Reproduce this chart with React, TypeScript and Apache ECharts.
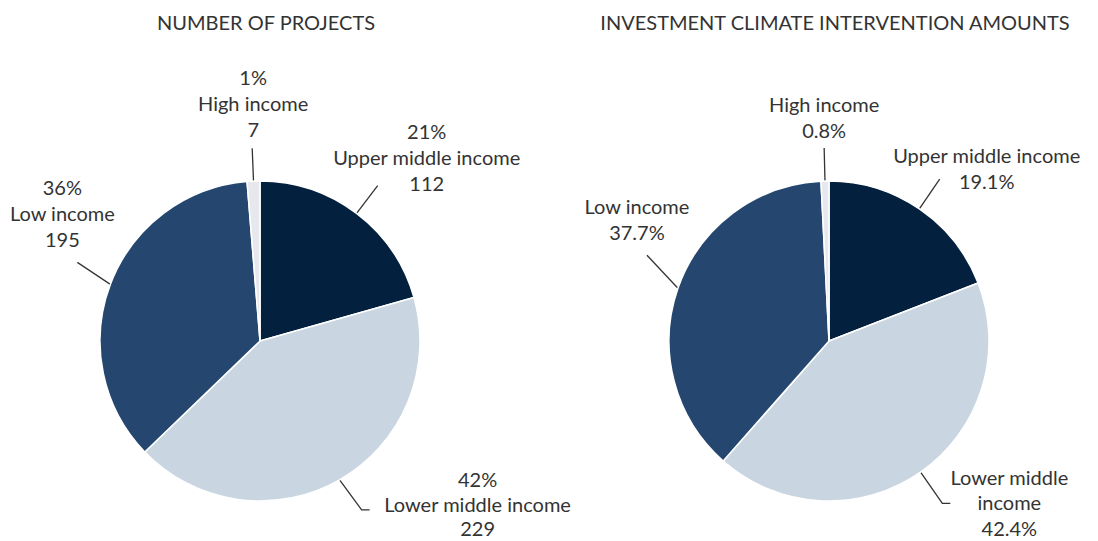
import React, { useEffect, useRef } from "react";
import * as echarts from "echarts";

const categories = ["Upper middle income", "Lower middle income", "Low income", "High income"];
const projectCounts = [112, 229, 195, 7];
const investmentShares = [19.1, 42.4, 37.7, 0.8];
const investmentLabelNames = ["Upper middle income", "Lower middle\nincome", "Low income", "High income"];
const titles = ["NUMBER OF PROJECTS", "INVESTMENT CLIMATE INTERVENTION AMOUNTS"];

const colors = ["#03203f", "#c9d6e2", "#25476f", "#e6e8ee"];
const FONT = "Lato, 'Open Sans', sans-serif";
const TEXT_COLOR = "#333333";
const FONT_SIZE = 20;

type LabelStyle = {
  length: number;
  length2: number;
  dx: number;
  dy: number;
  lh: number;
  v?: [number, number]; // optional custom first leader segment
  h?: number; // optional horizontal second segment
};

// label line lengths and label offsets (relative to line end)
const leftLayout: LabelStyle[] = [
  { length: 35, length2: 0, dx: 49, dy: -29, lh: 26 },
  { length: 39, length2: 8, dx: 108, dy: -6, lh: 24.5, v: [22, 30], h: 8 },
  { length: 41, length2: 0, dx: -15, dy: -49, lh: 26, v: [-33, -22], h: 0 },
  { length: 33, length2: 0, dx: 1, dy: -45, lh: 26 },
];
const rightLayout: LabelStyle[] = [
  { length: 36, length2: 0, dx: 47, dy: -11, lh: 26 },
  { length: 38, length2: 8, dx: 59, dy: -1, lh: 25.5 },
  { length: 43, length2: 0, dx: -10, dy: -36, lh: 26, v: [-31, -33], h: 0 },
  { length: 33, length2: 0, dx: 0, dy: -31, lh: 26 },
];

function makeLayout(layout: LabelStyle[]) {
  return (params: any) => {
    let pts = params.labelLinePoints;
    if (!pts) return {};
    const o = layout[params.dataIndex];
    if (o.v) {
      const s = pts[0];
      const p1 = [s[0] + o.v[0], s[1] + o.v[1]];
      const p2 = [p1[0] + (o.h || 0), p1[1]];
      pts = [[s[0], s[1]], p1, p2];
    }
    const end = pts[pts.length - 1];
    return {
      x: end[0] + o.dx,
      y: end[1] + o.dy,
      align: "center",
      verticalAlign: "middle",
      labelLinePoints: pts,
    };
  };
}

function richFor(lh: number) {
  return { c: { align: "center", color: TEXT_COLOR, fontFamily: FONT, fontSize: FONT_SIZE, lineHeight: lh } };
}

export default function App() {
  const ref = useRef<HTMLDivElement>(null);
  useEffect(() => {
    document.body.style.margin = "0";
    if (!ref.current) return;
    const chart = echarts.init(ref.current, undefined, { renderer: "svg" });

    const baseLabel = {
      show: true,
      position: "outside",
      color: TEXT_COLOR,
      fontFamily: FONT,
      fontSize: FONT_SIZE,
      lineHeight: 26,
      rich: richFor(26),
    };

    const leftData = categories.map((name, i) => ({
      name,
      value: projectCounts[i],
      itemStyle: { color: colors[i] },
      label: { lineHeight: leftLayout[i].lh, rich: richFor(leftLayout[i].lh) },
      labelLine: { length: leftLayout[i].length, length2: leftLayout[i].length2 },
    }));
    const rightData = categories.map((name, i) => ({
      name,
      value: investmentShares[i],
      itemStyle: { color: colors[i] },
      label: { lineHeight: rightLayout[i].lh, rich: richFor(rightLayout[i].lh) },
      labelLine: { length: rightLayout[i].length, length2: rightLayout[i].length2 },
    }));

    const titleStyle = { color: TEXT_COLOR, fontFamily: FONT, fontSize: FONT_SIZE, fontWeight: "normal" };

    chart.setOption({
      animation: false,
      title: [
        { text: titles[0], left: 266, top: 12, padding: 0, textAlign: "center", textStyle: titleStyle },
        { text: titles[1], left: 835, top: 12, padding: 0, textAlign: "center", textStyle: titleStyle },
      ],
      series: [
        {
          type: "pie",
          center: [260, 341],
          radius: 160,
          startAngle: 90,
          clockwise: true,
          avoidLabelOverlap: false,
          percentPrecision: 0,
          itemStyle: { borderColor: "#ffffff", borderWidth: 1.5 },
          label: {
            ...baseLabel,
            formatter: (p: any) => `{c|${p.percent}%}\n{c|${p.name}}\n{c|${p.value}}`,
          },
          labelLine: { show: true, lineStyle: { color: "#333333", width: 1.3 } },
          labelLayout: makeLayout(leftLayout),
          emphasis: { disabled: true },
          data: leftData,
        },
        {
          type: "pie",
          center: [829, 341],
          radius: 160,
          startAngle: 90,
          clockwise: true,
          avoidLabelOverlap: false,
          itemStyle: { borderColor: "#ffffff", borderWidth: 1.5 },
          label: {
            ...baseLabel,
            formatter: (p: any) =>
              investmentLabelNames[p.dataIndex]
                .split("\n")
                .map((s) => `{c|${s}}`)
                .join("\n") + `\n{c|${p.value}%}`,
          },
          labelLine: { show: true, lineStyle: { color: "#333333", width: 1.3 } },
          labelLayout: makeLayout(rightLayout),
          emphasis: { disabled: true },
          data: rightData,
        },
      ],
    });
    return () => chart.dispose();
  }, []);
  return <div ref={ref} style={{ width: 1098, height: 541 }} />;
}
